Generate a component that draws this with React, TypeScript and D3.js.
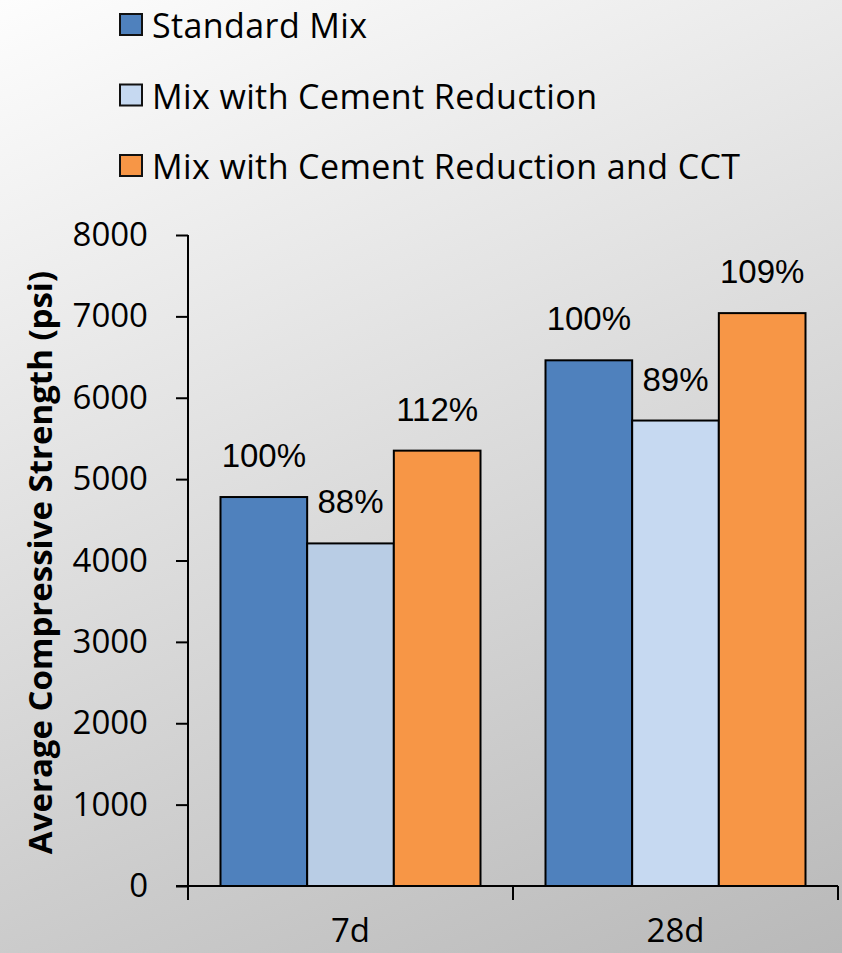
import { useEffect, useRef } from 'react';
import * as d3 from 'd3';

const categories = ['7d', '28d'];
const seriesNames = ['Standard Mix', 'Mix with Cement Reduction', 'Mix with Cement Reduction and CCT'];
const standardMix = [4780, 6460];
const cementReduction = [4210, 5720];
const cementReductionCCT = [5350, 7040];
const pctLabels = [
    ['100%', '100%'],
    ['88%', '89%'],
    ['112%', '109%'],
];
const yTicks = [0, 1000, 2000, 3000, 4000, 5000, 6000, 7000, 8000];

// the light blue bar is a touch darker in the 7d group of the original
const barFills = [
    ['#4F81BD', '#4F81BD'],
    ['#B9CDE5', '#C6D9F1'],
    ['#F79646', '#F79646'],
];
const legendFills = ['#4F81BD', '#C6D9F1', '#F79646'];

const W = 842;
const H = 953;
const font = '"Open Sans", "Noto Sans", sans-serif';

function App() {
    const svgRef = useRef<SVGSVGElement>(null);

    useEffect(() => {
        if (!svgRef.current) return;
        const svg = d3.select(svgRef.current);
        svg.selectAll('*').remove();

        const values = [standardMix, cementReduction, cementReductionCCT];

        const defs = svg.append('defs');
        const grad = defs.append('linearGradient')
            .attr('id', 'bg')
            .attr('gradientUnits', 'userSpaceOnUse')
            .attr('x1', 0).attr('y1', 0)
            .attr('x2', 464).attr('y2', 1109);
        grad.append('stop').attr('offset', 0).attr('stop-color', '#fdfdfd');
        grad.append('stop').attr('offset', 1).attr('stop-color', '#b9b9b9');

        svg.append('rect')
            .attr('width', W).attr('height', H)
            .attr('fill', 'url(#bg)');

        const x = d3.scaleBand<string>()
            .domain(categories)
            .range([188, 838])
            .paddingInner(0.2)
            .paddingOuter(0.1);

        const xSub = d3.scaleBand<number>()
            .domain(d3.range(seriesNames.length))
            .range([0, x.bandwidth()]);

        const y = d3.scaleLinear()
            .domain([0, 8000])
            .range([886, 235]);

        // bars
        const g = svg.append('g');
        values.forEach((vals, s) => {
            vals.forEach((v, c) => {
                const bx = x(categories[c])! + xSub(s)!;
                g.append('rect')
                    .attr('x', bx)
                    .attr('y', y(v))
                    .attr('width', xSub.bandwidth())
                    .attr('height', y(0) - y(v))
                    .attr('fill', barFills[s][c])
                    .attr('stroke', '#000')
                    .attr('stroke-width', 2);
                g.append('text')
                    .attr('x', bx + xSub.bandwidth() / 2)
                    .attr('y', y(v) - 30)
                    .attr('text-anchor', 'middle')
                    .attr('font-family', '"Liberation Sans", Arial, sans-serif')
                    .attr('font-size', 33)
                    .attr('fill', '#000')
                    .text(pctLabels[s][c]);
            });
        });

        // y axis
        const yAxis = d3.axisLeft(y).tickValues(yTicks).tickSize(12).tickSizeOuter(0).tickPadding(28).tickFormat(d3.format('d'));
        const ya = svg.append('g')
            .attr('transform', 'translate(188,0)')
            .call(yAxis);
        ya.select('.domain').attr('stroke', '#000').attr('stroke-width', 2).attr('d', `M0,${y(8000)}V${y(0) + 14}`);
        ya.selectAll('.tick line').attr('stroke', '#000').attr('stroke-width', 2);
        ya.selectAll('.tick text')
            .attr('font-family', font)
            .attr('font-size', 33)
            .attr('fill', '#000');

        // x axis
        const xa = svg.append('g').attr('transform', `translate(0,${y(0)})`);
        xa.append('line')
            .attr('x1', 176).attr('x2', 838)
            .attr('stroke', '#000').attr('stroke-width', 2);
        const bounds = [188, x(categories[1])! - (x.step() - x.bandwidth()) / 2, 838];
        bounds.forEach((bx) => {
            xa.append('line')
                .attr('x1', bx).attr('x2', bx)
                .attr('y1', 0).attr('y2', 14)
                .attr('stroke', '#000').attr('stroke-width', 2);
        });
        categories.forEach((c) => {
            xa.append('text')
                .attr('x', x(c)! + x.bandwidth() / 2)
                .attr('y', 56)
                .attr('text-anchor', 'middle')
                .attr('font-family', font)
                .attr('font-size', 33)
                .attr('fill', '#000')
                .text(c);
        });

        // y title
        svg.append('text')
            .attr('transform', `translate(52,${(y(0) + y(8000)) / 2 + 2}) rotate(-90)`)
            .attr('text-anchor', 'middle')
            .attr('font-family', font)
            .attr('font-weight', 'bold')
            .attr('font-size', 33)
            .attr('fill', '#000')
            .text('Average Compressive Strength (psi)');

        // legend
        const lg = svg.append('g');
        seriesNames.forEach((name, i) => {
            const base = 38 + i * 70.5;
            lg.append('rect')
                .attr('x', 120).attr('y', base - 24)
                .attr('width', 22).attr('height', 21)
                .attr('fill', legendFills[i])
                .attr('stroke', '#111')
                .attr('stroke-width', 2);
            lg.append('text')
                .attr('x', 152).attr('y', base)
                .attr('font-family', font)
                .attr('font-size', 34)
                .attr('letter-spacing', 0.4)
                .attr('fill', '#000')
                .text(name);
        });
    }, []);

    return (
        <svg ref={svgRef} width={W} height={H} style={{ position: 'absolute', left: 0, top: 0 }}></svg>
    );
}

export default App;
